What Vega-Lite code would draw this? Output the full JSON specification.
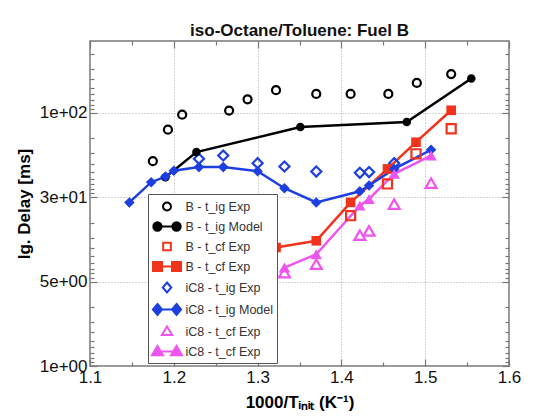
{
  "$schema": "https://vega.github.io/schema/vega-lite/v6.json",
  "width": 419,
  "height": 325,
  "autosize": {"type": "none"},
  "padding": {"left": 90, "top": 41, "right": 47, "bottom": 52},
  "title": {"text": "iso-Octane/Toluene: Fuel B", "fontSize": 17, "fontWeight": "bold", "font": "Liberation Sans", "anchor": "middle", "offset": 0, "color": "#111"},
  "config": {
    "view": {"stroke": "#777", "strokeWidth": 1.5},
    "font": "Liberation Sans",
    "axis": {"labelFont": "Liberation Sans", "titleFont": "Liberation Sans", "labelColor": "#111", "titleColor": "#000"},
    "legend": {"orient": "none", "legendX": 58, "legendY": 153, "labelFontSize": 12.5, "labelFont": "Liberation Sans", "labelColor": "#333", "symbolSize": 289, "symbolOffset": 6.5, "symbolStrokeWidth": 2, "symbolFillColor": "transparent", "rowPadding": 2, "padding": 3, "labelOffset": 9, "strokeColor": "#555", "fillColor": "white"}
  },
  "data": {"values": [
    {"series": "b1", "invT": 1.175, "delay": 26.8},
    {"series": "b1", "invT": 1.193, "delay": 63.4},
    {"series": "b1", "invT": 1.210, "delay": 95.5},
    {"series": "b1", "invT": 1.266, "delay": 106.6},
    {"series": "b1", "invT": 1.288, "delay": 145},
    {"series": "b1", "invT": 1.322, "delay": 186},
    {"series": "b1", "invT": 1.370, "delay": 168},
    {"series": "b1", "invT": 1.411, "delay": 168},
    {"series": "b1", "invT": 1.456, "delay": 168},
    {"series": "b1", "invT": 1.490, "delay": 227},
    {"series": "b1", "invT": 1.531, "delay": 289},
    {"series": "b2", "invT": 1.190, "delay": 17.3},
    {"series": "b2", "invT": 1.227, "delay": 34.4},
    {"series": "b2", "invT": 1.351, "delay": 68},
    {"series": "b2", "invT": 1.478, "delay": 78},
    {"series": "b2", "invT": 1.555, "delay": 256},
    {"series": "b3", "invT": 1.411, "delay": 6.05},
    {"series": "b3", "invT": 1.455, "delay": 14.4},
    {"series": "b3", "invT": 1.489, "delay": 32.8},
    {"series": "b3", "invT": 1.531, "delay": 65},
    {"series": "b4", "invT": 1.322, "delay": 2.54},
    {"series": "b4", "invT": 1.370, "delay": 3.05},
    {"series": "b4", "invT": 1.411, "delay": 8.7},
    {"series": "b4", "invT": 1.455, "delay": 21.7},
    {"series": "b4", "invT": 1.489, "delay": 45},
    {"series": "b4", "invT": 1.531, "delay": 107.6},
    {"series": "c1", "invT": 1.230, "delay": 28.6},
    {"series": "c1", "invT": 1.259, "delay": 31.3},
    {"series": "c1", "invT": 1.300, "delay": 25.4},
    {"series": "c1", "invT": 1.332, "delay": 23.2},
    {"series": "c1", "invT": 1.370, "delay": 20.2},
    {"series": "c1", "invT": 1.422, "delay": 19.5},
    {"series": "c1", "invT": 1.433, "delay": 19.9},
    {"series": "c1", "invT": 1.463, "delay": 25.4},
    {"series": "c2", "invT": 1.147, "delay": 8.7},
    {"series": "c2", "invT": 1.173, "delay": 15.1},
    {"series": "c2", "invT": 1.190, "delay": 17.6},
    {"series": "c2", "invT": 1.200, "delay": 20.7},
    {"series": "c2", "invT": 1.230, "delay": 22.8},
    {"series": "c2", "invT": 1.259, "delay": 22.8},
    {"series": "c2", "invT": 1.300, "delay": 20.4},
    {"series": "c2", "invT": 1.332, "delay": 12.8},
    {"series": "c2", "invT": 1.370, "delay": 8.7},
    {"series": "c2", "invT": 1.422, "delay": 11.8},
    {"series": "c2", "invT": 1.433, "delay": 13.8},
    {"series": "c2", "invT": 1.463, "delay": 21.7},
    {"series": "c2", "invT": 1.507, "delay": 36.6},
    {"series": "c3", "invT": 1.332, "delay": 1.28},
    {"series": "c3", "invT": 1.370, "delay": 1.61},
    {"series": "c3", "invT": 1.422, "delay": 3.56},
    {"series": "c3", "invT": 1.433, "delay": 4.0},
    {"series": "c3", "invT": 1.463, "delay": 8.3},
    {"series": "c3", "invT": 1.507, "delay": 14.7},
    {"series": "c4", "invT": 1.332, "delay": 1.47},
    {"series": "c4", "invT": 1.370, "delay": 2.11},
    {"series": "c4", "invT": 1.422, "delay": 7.96},
    {"series": "c4", "invT": 1.433, "delay": 9.55},
    {"series": "c4", "invT": 1.463, "delay": 19.0},
    {"series": "c4", "invT": 1.507, "delay": 31.3}
  ]},
  "resolve": {"axis": {"x": "independent", "y": "independent"}, "scale": {"shape": "independent", "stroke": "independent"}},
  "layer": [
    {
      "transform": [{"filter": {"field": "series", "oneOf": ["b2", "b4", "c2", "c4"]}}],
      "mark": {"type": "line", "strokeWidth": 2.5},
      "encoding": {
        "x": {"field": "invT", "type": "quantitative",
          "scale": {"domain": [1.1, 1.6], "nice": false, "zero": false},
          "axis": {"orient": "bottom", "values": [1.1, 1.2, 1.3, 1.4, 1.5, 1.6], "format": ".1f", "grid": true, "gridDash": [1, 2], "gridColor": "#aaa", "gridWidth": 1, "ticks": false, "domain": false, "labelFontSize": 17, "labelPadding": 3, "labelFlush": false, "labelOverlap": false, "title": "1000/Tᵢₙᵢₜ (K⁻¹)", "titleFontSize": 17, "titleFontWeight": "bold", "titlePadding": 9}},
        "y": {"field": "delay", "type": "quantitative",
          "scale": {"type": "log", "domain": [0.1, 713], "nice": false},
          "axis": {"orient": "left", "values": [0.1, 1, 10, 100], "labelExpr": "datum.value==100?'1e+02':datum.value==10?'3e+01':datum.value==1?'5e+00':'1e+00'", "grid": true, "gridDash": [1, 2], "gridColor": "#aaa", "gridWidth": 1, "ticks": false, "domain": false, "labelFontSize": 17, "labelPadding": 3, "labelOverlap": false, "labelBound": false, "title": "Ig. Delay [ms]", "titleFontSize": 17, "titleFontWeight": "bold", "titlePadding": 6}},
        "color": {"field": "series", "type": "nominal", "legend": null,
          "scale": {"domain": ["b1", "b2", "b3", "b4", "c1", "c2", "c3", "c4"], "range": ["#000000", "#000000", "#f2331c", "#f2331c", "#1d3fe0", "#1d3fe0", "#ee55ee", "#ee55ee"]}}
      }
    },
    {
      "transform": [{"filter": {"field": "series", "oneOf": ["b1", "b3", "c1", "c3"]}}],
      "mark": {"type": "point", "filled": false, "strokeWidth": 2.2, "opacity": 1},
      "encoding": {
        "x": {"field": "invT", "type": "quantitative",
          "axis": {"orient": "top", "values": [1.1, 1.15, 1.2, 1.25, 1.3, 1.35, 1.4, 1.45, 1.5, 1.55, 1.6], "labels": false, "grid": false, "domain": false, "ticks": true, "tickColor": "#777", "tickWidth": 1.2, "tickSize": {"condition": {"test": "abs(datum.value*10-round(datum.value*10))<0.01", "value": -7}, "value": -4}, "title": null}},
        "y": {"field": "delay", "type": "quantitative",
          "axis": {"orient": "right", "values": [0.1, 0.1111, 0.125, 0.1429, 0.1667, 0.2, 0.25, 0.3333, 0.5, 1, 1.111, 1.25, 1.429, 1.667, 2, 2.5, 3.333, 5, 10, 11.11, 12.5, 14.29, 16.67, 20, 25, 33.33, 50, 100, 111.1, 125, 142.9, 166.7, 200, 250, 333.3, 500], "labels": false, "grid": false, "domain": false, "ticks": true, "tickColor": "#777", "tickWidth": 1.2, "tickSize": {"condition": {"test": "abs(log(datum.value)/LN10-round(log(datum.value)/LN10))<0.001", "value": -7}, "value": -4}, "title": null}},
        "color": {"field": "series", "type": "nominal", "legend": null},
        "shape": {"field": "series", "type": "nominal", "legend": null,
          "scale": {"domain": ["b1", "b2", "b3", "b4", "c1", "c2", "c3", "c4"], "range": ["circle", "circle", "square", "square", "diamond", "diamond", "triangle-up", "triangle-up"]}},
        "size": {"field": "series", "type": "nominal", "legend": null,
          "scale": {"domain": ["b1", "b2", "b3", "b4", "c1", "c2", "c3", "c4"], "range": [64, 130, 64, 121, 100, 150, 90, 130]}}
      }
    },
    {
      "transform": [{"filter": {"field": "series", "oneOf": ["b2", "b4", "c2", "c4"]}}],
      "mark": {"type": "point", "filled": true, "opacity": 1},
      "encoding": {
        "x": {"field": "invT", "type": "quantitative",
          "axis": {"orient": "bottom", "values": [1.1, 1.15, 1.2, 1.25, 1.3, 1.35, 1.4, 1.45, 1.5, 1.55, 1.6], "labels": false, "grid": false, "domain": false, "ticks": true, "tickColor": "#777", "tickWidth": 1.2, "tickSize": {"condition": {"test": "abs(datum.value*10-round(datum.value*10))<0.01", "value": -7}, "value": -4}, "title": null}},
        "y": {"field": "delay", "type": "quantitative",
          "axis": {"orient": "left", "values": [0.1, 0.1111, 0.125, 0.1429, 0.1667, 0.2, 0.25, 0.3333, 0.5, 1, 1.111, 1.25, 1.429, 1.667, 2, 2.5, 3.333, 5, 10, 11.11, 12.5, 14.29, 16.67, 20, 25, 33.33, 50, 100, 111.1, 125, 142.9, 166.7, 200, 250, 333.3, 500], "labels": false, "grid": false, "domain": false, "ticks": true, "tickColor": "#777", "tickWidth": 1.2, "tickSize": {"condition": {"test": "abs(log(datum.value)/LN10-round(log(datum.value)/LN10))<0.001", "value": -7}, "value": -4}, "title": null}},
        "color": {"field": "series", "type": "nominal", "legend": null},
        "shape": {"field": "series", "type": "nominal", "legend": null,
          "scale": {"domain": ["b1", "b2", "b3", "b4", "c1", "c2", "c3", "c4"], "range": ["circle", "circle", "square", "square", "diamond", "diamond", "triangle-up", "triangle-up"]}},
        "size": {"field": "series", "type": "nominal", "legend": null}
      }
    },
    {
      "transform": [{"filter": "false"}],
      "mark": {"type": "point", "filled": false, "strokeWidth": 2, "opacity": 1},
      "encoding": {
        "shape": {"field": "series", "type": "nominal",
          "scale": {"domain": ["b1", "b2", "b3", "b4", "c1", "c2", "c3", "c4"], "range": [
            "M-0.47,0A0.47,0.47,0,1,0,0.47,0A0.47,0.47,0,1,0,-0.47,0Z",
            "M-1.12,0H1.12M-1.61,0A0.49,0.49,0,1,0,-0.63,0A0.49,0.49,0,1,0,-1.61,0ZM-1.43,0A0.31,0.31,0,1,0,-0.81,0A0.31,0.31,0,1,0,-1.43,0ZM-1.25,0A0.13,0.13,0,1,0,-0.99,0A0.13,0.13,0,1,0,-1.25,0ZM0.63,0A0.49,0.49,0,1,0,1.61,0A0.49,0.49,0,1,0,0.63,0ZM0.81,0A0.31,0.31,0,1,0,1.43,0A0.31,0.31,0,1,0,0.81,0ZM0.99,0A0.13,0.13,0,1,0,1.25,0A0.13,0.13,0,1,0,0.99,0Z",
            "M-0.45,-0.45H0.45V0.45H-0.45Z",
            "M-1.12,0H1.12M-1.65,-0.53H-0.59V0.53H-1.65ZM-1.46,-0.34H-0.78V0.34H-1.46ZM-1.27,-0.15H-0.97V0.15H-1.27ZM0.59,-0.53H1.65V0.53H0.59ZM0.78,-0.34H1.46V0.34H0.78ZM0.97,-0.15H1.27V0.15H0.97Z",
            "M0,-0.59L0.5,0L0,0.59L-0.5,0Z",
            "M-1.12,0H1.12M-1.12,-0.65L-0.58,0L-1.12,0.65L-1.66,0ZM-1.12,-0.42L-0.77,0L-1.12,0.42L-1.47,0ZM-1.12,-0.2L-0.96,0L-1.12,0.2L-1.28,0ZM1.12,-0.65L1.66,0L1.12,0.65L0.58,0ZM1.12,-0.42L1.47,0L1.12,0.42L0.77,0ZM1.12,-0.2L1.28,0L1.12,0.2L0.96,0Z",
            "M0,-0.59L0.61,0.41H-0.61Z",
            "M-1.12,0H1.12M-1.12,-0.65L-0.47,0.45H-1.77ZM-1.12,-0.4L-0.72,0.28H-1.52ZM-1.12,-0.16L-0.96,0.12H-1.28ZM1.12,-0.65L1.77,0.45H0.47ZM1.12,-0.4L1.52,0.28H0.72ZM1.12,-0.16L1.28,0.12H0.96Z"
          ]},
          "legend": {"title": null, "symbolSize": 289, "labelExpr": "datum.value=='b1'?'B - t_ig Exp':datum.value=='b2'?'B - t_ig Model':datum.value=='b3'?'B - t_cf Exp':datum.value=='b4'?'B - t_cf Exp':datum.value=='c1'?'iC8 - t_ig Exp':datum.value=='c2'?'iC8 - t_ig Model':datum.value=='c3'?'iC8 - t_cf Exp':'iC8 - t_cf Exp'"}},
        "stroke": {"field": "series", "type": "nominal",
          "scale": {"domain": ["b1", "b2", "b3", "b4", "c1", "c2", "c3", "c4"], "range": ["#000000", "#000000", "#f2331c", "#f2331c", "#1d3fe0", "#1d3fe0", "#ee55ee", "#ee55ee"]},
          "legend": {"title": null, "symbolSize": 289, "labelExpr": "datum.value=='b1'?'B - t_ig Exp':datum.value=='b2'?'B - t_ig Model':datum.value=='b3'?'B - t_cf Exp':datum.value=='b4'?'B - t_cf Exp':datum.value=='c1'?'iC8 - t_ig Exp':datum.value=='c2'?'iC8 - t_ig Model':datum.value=='c3'?'iC8 - t_cf Exp':'iC8 - t_cf Exp'"}}
      }
    }
  ]
}
